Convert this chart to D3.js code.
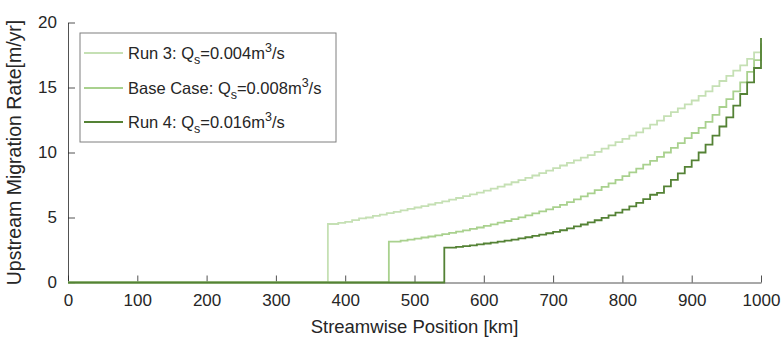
<!DOCTYPE html>
<html>
<head>
<meta charset="utf-8">
<script src="https://cdn.jsdelivr.net/npm/d3@7"></script>
<style>
  html, body { margin: 0; padding: 0; background: #fff; }
  svg text { font-family: "Liberation Sans", Arial, Helvetica, sans-serif; fill: #262626; }
</style>
</head>
<body>
<svg id="chart" width="783" height="344"></svg>
<script>
// Upstream migration rate along the channel for three sediment supply cases.
const xTicks = [0, 100, 200, 300, 400, 500, 600, 700, 800, 900, 1000];
const yTicks = [0, 5, 10, 15, 20];
const gridStep = 10; // km between stored samples

// Run 3: Qs = 0.004 m3/s
const run3Onset = 375;
const run3Start = 380;
const run3Rate = [
  4.50, 4.58, 4.66, 4.80, 4.93, 5.00, 5.12, 5.22, 5.33, 5.44,
  5.55, 5.66, 5.77, 5.88, 6.00, 6.12, 6.24, 6.37, 6.50, 6.64,
  6.78, 6.92, 7.07, 7.22, 7.38, 7.54, 7.71, 7.88, 8.05, 8.23,
  8.42, 8.61, 8.80, 9.00, 9.20, 9.40, 9.60, 9.80, 10.05, 10.30,
  10.55, 10.80, 11.05, 11.30, 11.55, 11.85, 12.15, 12.45, 12.80, 13.10,
  13.40, 13.70, 14.00, 14.35, 14.70, 15.10, 15.50, 15.90, 16.30, 16.70,
  17.20, 17.70, 18.30
];

// Base case: Qs = 0.008 m3/s
const baseOnset = 463;
const baseStart = 470;
const baseRate = [
  3.15, 3.22, 3.30, 3.38, 3.46, 3.54, 3.63, 3.72, 3.81, 3.91,
  4.01, 4.12, 4.23, 4.35, 4.47, 4.60, 4.73, 4.87, 5.01, 5.16,
  5.31, 5.47, 5.63, 5.80, 5.97, 6.18, 6.40, 6.63, 6.86, 7.10,
  7.35, 7.62, 7.90, 8.18, 8.47, 8.76, 9.06, 9.36, 9.67, 10.00,
  10.35, 10.72, 11.10, 11.50, 11.90, 12.35, 12.90, 13.50, 14.10, 14.70,
  15.40, 16.20, 17.10, 18.40
];

// Run 4: Qs = 0.016 m3/s
const run4Onset = 543;
const run4Start = 550;
const run4Rate = [
  2.68, 2.74, 2.80, 2.86, 2.93, 3.00, 3.07, 3.14, 3.22, 3.30,
  3.39, 3.48, 3.58, 3.68, 3.79, 3.90, 4.02, 4.16, 4.31, 4.46,
  4.62, 4.79, 4.97, 5.16, 5.37, 5.60, 5.85, 6.12, 6.42, 6.75,
  6.90, 7.40, 7.90, 8.40, 8.90, 9.40, 10.00, 10.60, 11.30, 12.00,
  12.70, 13.60, 14.50, 15.40, 16.50, 18.80
];

const seriesNames = ["Run 3: ", "Base Case: ", "Run 4: "];
const seriesQs = ["0.004", "0.008", "0.016"];
const seriesColors = ["#c5e0b4", "#a9d18e", "#548235"];

const series = [
  { onset: run3Onset, start: run3Start, rate: run3Rate },
  { onset: baseOnset, start: baseStart, rate: baseRate },
  { onset: run4Onset, start: run4Start, rate: run4Rate }
].map((s, i) => {
  const pts = [[0, 0], [s.onset, 0], [s.onset, s.rate[0]]];
  s.rate.forEach((r, j) => pts.push([s.start + j * gridStep, r]));
  return { name: seriesNames[i], qs: seriesQs[i], color: seriesColors[i], points: pts };
});

const svg = d3.select("#chart");
const margin = { left: 68, right: 22, top: 22.5, bottom: 61.5 };
const W = 783, H = 344;

const x = d3.scaleLinear().domain([0, 1000]).range([margin.left, W - margin.right]);
const y = d3.scaleLinear().domain([0, 20]).range([H - margin.bottom, margin.top]);

const axisColor = "#262626";

// Bottom axis, ticks pointing inward
const xAxis = svg.append("g")
  .attr("transform", `translate(0,${y(0)})`)
  .call(d3.axisBottom(x).tickValues(xTicks).tickFormat(d3.format("d"))
    .tickSizeInner(-7).tickSizeOuter(0).tickPadding(12));
// Left axis, ticks pointing inward
const yAxis = svg.append("g")
  .attr("transform", `translate(${x(0)},0)`)
  .call(d3.axisLeft(y).tickValues(yTicks).tickFormat(d3.format("d"))
    .tickSizeInner(-7).tickSizeOuter(0).tickPadding(12));

[xAxis, yAxis].forEach(g => {
  g.select(".domain").attr("stroke", axisColor).attr("stroke-width", 0.8);
  g.selectAll(".tick line").attr("stroke", axisColor).attr("stroke-width", 0.8);
  g.selectAll(".tick text").attr("font-size", 17).attr("fill", axisColor)
    .style("font-family", "'Liberation Sans', Arial, sans-serif");
});
xAxis.selectAll(".tick text").attr("dy", "0.71em").attr("y", 11);
yAxis.selectAll(".tick text").attr("x", -11);

// Data lines, on top of the axes so the zero segments stay visible
const line = d3.line().x(d => x(d[0])).y(d => y(d[1])).curve(d3.curveStepAfter);
svg.append("g").selectAll("path").data(series).join("path")
  .attr("d", d => line(d.points))
  .attr("fill", "none")
  .attr("stroke", d => d.color)
  .attr("stroke-width", 1.8)
  .attr("stroke-linejoin", "miter");

// Axis titles
svg.append("text")
  .attr("x", (x(0) + x(1000)) / 2).attr("y", 333)
  .attr("text-anchor", "middle").attr("font-size", 18.5)
  .text("Streamwise Position [km]");

svg.append("text")
  .attr("transform", `translate(21,${(y(0) + y(20)) / 2}) rotate(-90)`)
  .attr("text-anchor", "middle").attr("font-size", 19.5)
  .text("Upstream Migration Rate[m/yr]");

// Legend
const legend = svg.append("g").attr("transform", "translate(80,33)");
legend.append("rect")
  .attr("width", 256).attr("height", 109)
  .attr("fill", "#fff").attr("stroke", "#7f7f7f").attr("stroke-width", 1);

const rowY = [20, 55, 89];
const entry = legend.selectAll("g.entry").data(series).join("g")
  .attr("class", "entry")
  .attr("transform", (d, i) => `translate(0,${rowY[i]})`);
entry.append("line")
  .attr("x1", 4).attr("x2", 43).attr("y1", 0).attr("y2", 0)
  .attr("stroke", d => d.color).attr("stroke-width", 1.8);
const label = entry.append("text").attr("x", 48).attr("y", 6).attr("font-size", 16.5);
label.append("tspan").text(d => d.name + "Q");
label.append("tspan").attr("font-size", 12.5).attr("dy", 5).text("s");
label.append("tspan").attr("dy", -5).text(d => "=" + d.qs + "m");
label.append("tspan").attr("font-size", 12.5).attr("dy", -7).text("3");
label.append("tspan").attr("dy", 7).text("/s");
</script>
</body>
</html>
